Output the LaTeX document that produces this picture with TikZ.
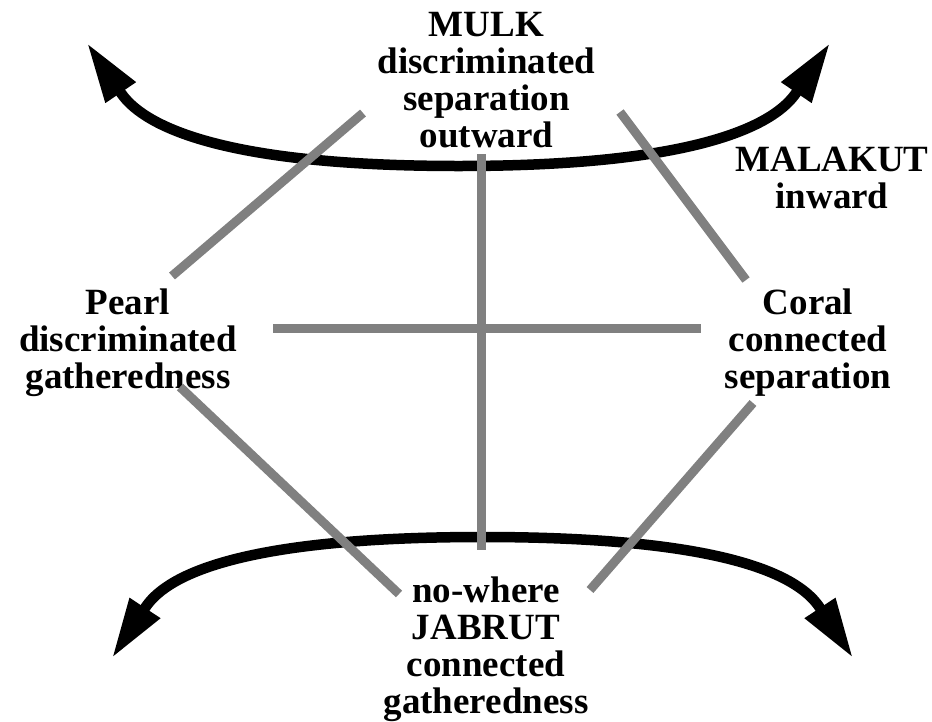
\documentclass[tikz,border=0pt]{standalone}
\usepackage{fontspec}
\setmainfont{Liberation Serif}
\usetikzlibrary{arrows.meta}

\begin{document}
\begin{tikzpicture}[x=1pt, y=-1pt,
  term/.style={align=center, inner sep=0pt, anchor=north, font=\bfseries\fontsize{37}{37}\selectfont},
  bigarc/.style={line width=10.5pt, {Triangle[length=60pt,width=34pt]}-{Triangle[length=60pt,width=34pt]}},
  spoke/.style={line width=9pt, draw=black!50}
]
  \useasboundingbox (0,0) rectangle (932,721);

  \node[term] (mulk)    at (486.5,12) {MULK\\discriminated\\separation\\outward};
  \node[term] (malakut) at (832,147)  {MALAKUT\\inward};
  \node[term] (pearl)   at (128,289)  {Pearl\\discriminated\\gatheredness};
  \node[term] (coral)   at (808,289)  {Coral\\connected\\separation};
  \node[term] (jabrut)  at (486,577)  {no-where\\JABRUT\\connected\\gatheredness};

  % upper and lower arcs
  \coordinate (ulTip) at (87,43);   \coordinate (ulBase) at (121,93);
  \coordinate (urTip) at (830,43);  \coordinate (urBase) at (796,93);
  \coordinate (topMid) at (458.5,166);
  \draw[bigarc] (ulTip) -- (ulBase) .. controls (140.7,121.9) and (210,166) .. (topMid)
    .. controls (707,166) and (776.3,121.9) .. (urBase) -- (urTip);

  \coordinate (llTip) at (112,658); \coordinate (llBase) at (145,608);
  \coordinate (lrTip) at (853,658); \coordinate (lrBase) at (820,608);
  \coordinate (botMid) at (482.5,537);
  \draw[bigarc] (llTip) -- (llBase) .. controls (164,578.6) and (230,537) .. (botMid)
    .. controls (735,537) and (801,578.6) .. (lrBase) -- (lrTip);

  % grey spokes
  \coordinate (s1a) at (363,113); \coordinate (s1b) at (172,276);
  \coordinate (s2a) at (620,112); \coordinate (s2b) at (746,280);
  \coordinate (s3a) at (180,387); \coordinate (s3b) at (399,594);
  \coordinate (s4a) at (753,403); \coordinate (s4b) at (590,590);
  \coordinate (va)  at (481,154); \coordinate (vb)  at (481,550);
  \coordinate (ha)  at (273,328); \coordinate (hb)  at (701,328);
  \foreach \i/\j in {s1a/s1b,s2a/s2b,s3a/s3b,s4a/s4b,va/vb,ha/hb} \draw[spoke] (\i) -- (\j);
\end{tikzpicture}
\end{document}
